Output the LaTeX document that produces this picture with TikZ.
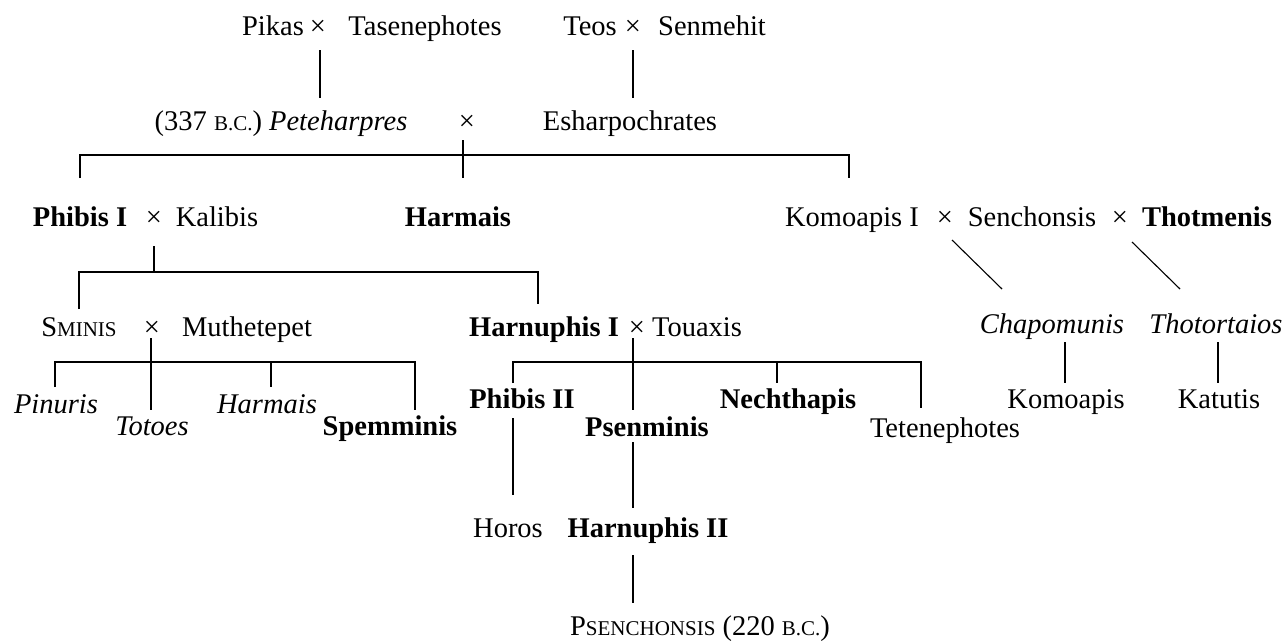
\documentclass[tikz,border=0pt]{standalone}
\usepackage{fontspec}
\setmainfont{Liberation Serif}
\newcommand{\smc}[1]{{\fontsize{21}{21}\selectfont #1}}
\begin{document}
\begin{tikzpicture}[x=1pt,y=-1pt,
  t/.style={inner sep=0pt,anchor=base,font=\fontsize{28.5}{30}\selectfont},
  tb/.style={t,font=\fontsize{28.5}{30}\selectfont\bfseries},
  ti/.style={t,font=\fontsize{28.5}{30}\selectfont\itshape},
  ln/.style={line width=1.8pt},
  lt/.style={line width=1.1pt}]
\useasboundingbox (0,0) rectangle (1284,641);
% row 1
\node[t] (pikas) at (273,35) {Pikas};
\node[t] (x1) at (318,35) {×};
\node[t] (tasen) at (425,35) {Tasenephotes};
\node[t] (teos) at (590,35) {Teos};
\node[t] (x2) at (633,35) {×};
\node[t] (senm) at (712,35) {Senmehit};
% row 2
\node[t] (pete) at (281,130) {(337 \smc{B.C.}) \textit{Peteharpres}};
\node[t] (x3) at (467,130) {×};
\node[t] (eshar) at (630,130) {Esharpochrates};
% row 3
\node[tb] (phibis1) at (80,226) {Phibis I};
\node[t] (x4) at (154,226) {×};
\node[t] (kalibis) at (217,226) {Kalibis};
\node[tb] (harmais) at (458,226) {Harmais};
\node[t] (komo1) at (852,226) {Komoapis I};
\node[t] (x5) at (945,226) {×};
\node[t] (senchon) at (1032,226) {Senchonsis};
\node[t] (x6) at (1120,226) {×};
\node[tb] (thotm) at (1207,226) {Thotmenis};
% row 4
\node[t] (sminis) at (79,336) {S\smc{MINIS}};
\node[t] (x7) at (152,336) {×};
\node[t] (muthe) at (247,336) {Muthetepet};
\node[tb] (harn1) at (544,336) {Harnuphis I};
\node[t] (x8) at (637,336) {×};
\node[t] (touaxis) at (697,336) {Touaxis};
\node[ti] (chapo) at (1052,333) {Chapomunis};
\node[ti] (thotor) at (1216,333) {Thotortaios};
% row 5
\node[ti] (pinuris) at (56,413) {Pinuris};
\node[ti] (totoes) at (152,435) {Totoes};
\node[ti] (harmais2) at (267,413) {Harmais};
\node[tb] (spemm) at (390,435) {Spemminis};
\node[tb] (phibis2) at (522,408) {Phibis II};
\node[tb] (psen) at (647,436) {Psenminis};
\node[tb] (necht) at (788,408) {Nechthapis};
\node[t] (tetene) at (945,437) {Tetenephotes};
\node[t] (komoapis) at (1066,408) {Komoapis};
\node[t] (katutis) at (1219,408) {Katutis};
% row 6
\node[t] (horos) at (508,537) {Horos};
\node[tb] (harn2) at (648,537) {Harnuphis II};
% row 7
\node[t] (psench) at (700,635) {P\smc{SENCHONSIS} (220 \smc{B.C.})};

% connector coordinates
\coordinate (c1a) at (320,50);  \coordinate (c1b) at (320,98);
\coordinate (c2a) at (633,50);  \coordinate (c2b) at (633,98);
\coordinate (c3a) at (80,178);  \coordinate (c3b) at (80,155);
\coordinate (c3c) at (849,155); \coordinate (c3d) at (849,178);
\coordinate (c4a) at (463,140); \coordinate (c4b) at (463,178);
\coordinate (c5a) at (154,246); \coordinate (c5b) at (154,272);
\coordinate (c6a) at (79,309);  \coordinate (c6b) at (79,272);
\coordinate (c6c) at (538,272); \coordinate (c6d) at (538,304);
\coordinate (c7a) at (952,240); \coordinate (c7b) at (1002,289);
\coordinate (c8a) at (1132,242);\coordinate (c8b) at (1180,289);
\coordinate (c9a) at (151,338); \coordinate (c9b) at (151,410);
\coordinate (c10a) at (55,387); \coordinate (c10b) at (55,362);
\coordinate (c10c) at (415,362);\coordinate (c10d) at (415,410);
\coordinate (c11a) at (271,362);\coordinate (c11b) at (271,387);
\coordinate (c12a) at (633,338);\coordinate (c12b) at (633,410);
\coordinate (c13a) at (513,383);\coordinate (c13b) at (513,362);
\coordinate (c13c) at (921,362);\coordinate (c13d) at (921,408);
\coordinate (c14a) at (777,362);\coordinate (c14b) at (777,383);
\coordinate (c15a) at (513,418);\coordinate (c15b) at (513,495);
\coordinate (c16a) at (633,442);\coordinate (c16b) at (633,508);
\coordinate (c17a) at (633,555);\coordinate (c17b) at (633,603);
\coordinate (c18a) at (1065,342);\coordinate (c18b) at (1065,383);
\coordinate (c19a) at (1218,342);\coordinate (c19b) at (1218,383);

\draw[ln] (c1a) -- (c1b);
\draw[ln] (c2a) -- (c2b);
\draw[ln] (c3a) -- (c3b) -- (c3c) -- (c3d);
\draw[ln] (c4a) -- (c4b);
\draw[ln] (c5a) -- (c5b);
\draw[ln] (c6a) -- (c6b) -- (c6c) -- (c6d);
\draw[lt] (c7a) -- (c7b);
\draw[lt] (c8a) -- (c8b);
\draw[lt] (c9a) -- (c9b);
\draw[ln] (c10a) -- (c10b) -- (c10c) -- (c10d);
\draw[ln] (c11a) -- (c11b);
\draw[ln] (c12a) -- (c12b);
\draw[ln] (c13a) -- (c13b) -- (c13c) -- (c13d);
\draw[ln] (c14a) -- (c14b);
\draw[ln] (c15a) -- (c15b);
\draw[ln] (c16a) -- (c16b);
\draw[ln] (c17a) -- (c17b);
\draw[ln] (c18a) -- (c18b);
\draw[lt] (c19a) -- (c19b);
\end{tikzpicture}
\end{document}
